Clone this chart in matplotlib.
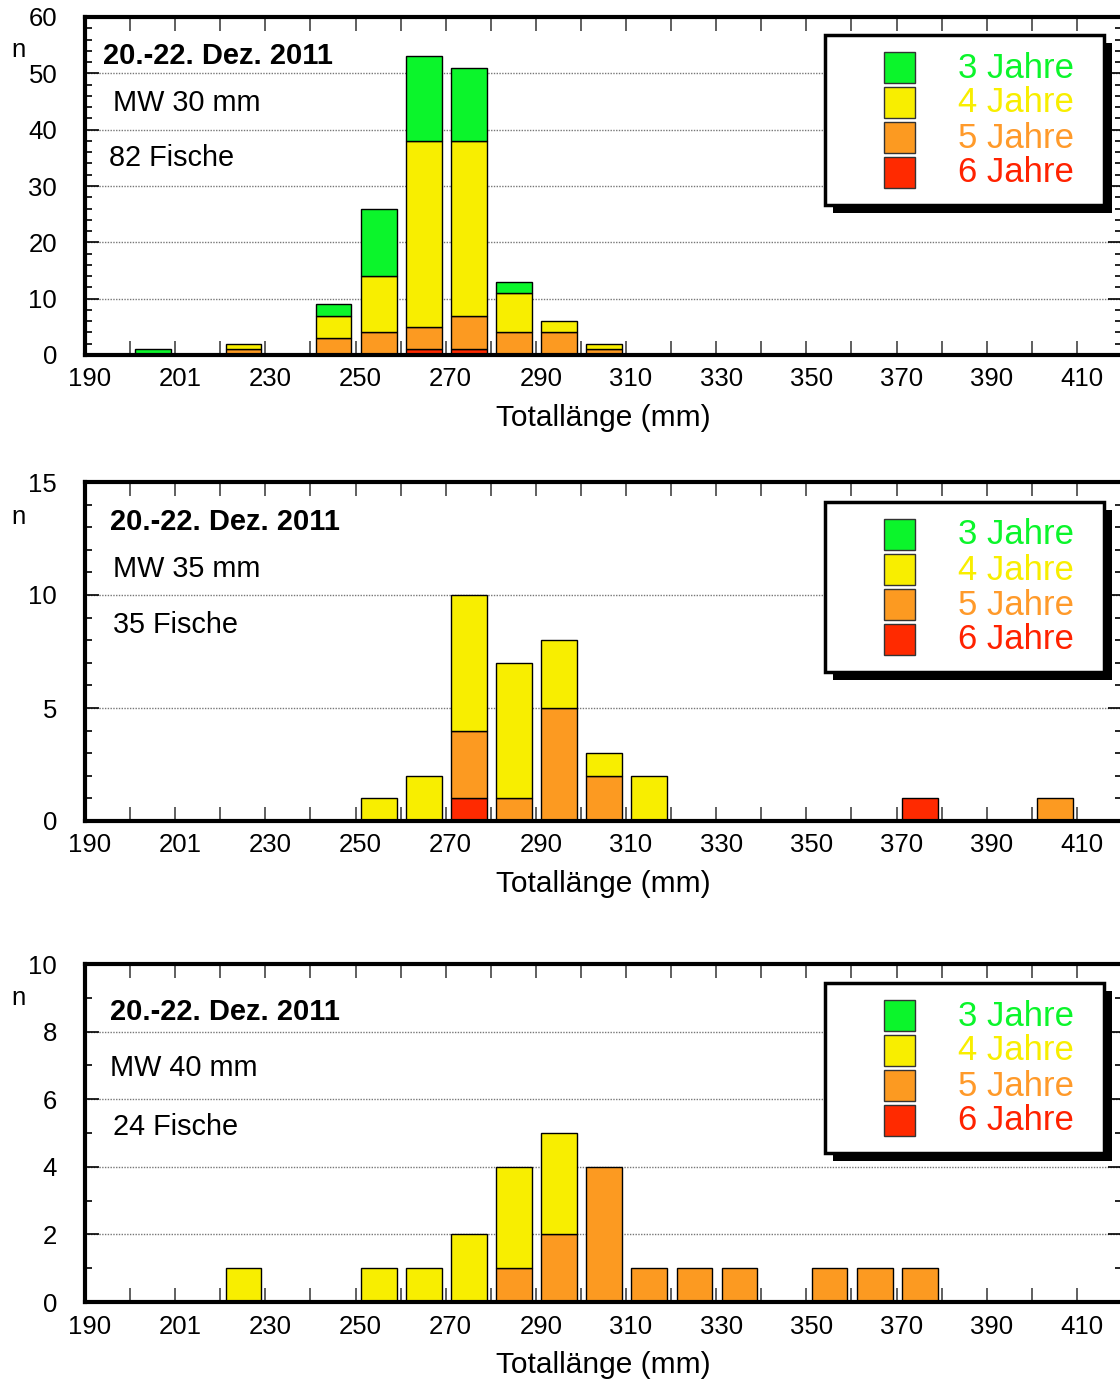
import matplotlib
matplotlib.use("Agg")
import matplotlib.pyplot as plt
import matplotlib.transforms as mtransforms
from matplotlib.patches import Rectangle
from matplotlib.ticker import MultipleLocator, FixedLocator, FixedFormatter

plt.rcParams['font.family'] = ['Liberation Sans', 'DejaVu Sans']

# Längenklassen (Untergrenze in mm)
klassen = list(range(200, 410, 10))

# Panel 1: MW 30 mm
p1_3 = [1, 0, 0, 0, 2, 12, 15, 13, 2, 0, 0, 0, 0, 0, 0, 0, 0, 0, 0, 0, 0]
p1_4 = [0, 0, 1, 0, 4, 10, 33, 31, 7, 2, 1, 0, 0, 0, 0, 0, 0, 0, 0, 0, 0]
p1_5 = [0, 0, 1, 0, 3, 4, 4, 6, 4, 4, 1, 0, 0, 0, 0, 0, 0, 0, 0, 0, 0]
p1_6 = [0, 0, 0, 0, 0, 0, 1, 1, 0, 0, 0, 0, 0, 0, 0, 0, 0, 0, 0, 0, 0]

# Panel 2: MW 35 mm
p2_3 = [0] * 21
p2_4 = [0, 0, 0, 0, 0, 1, 2, 6, 6, 3, 1, 2, 0, 0, 0, 0, 0, 0, 0, 0, 0]
p2_5 = [0, 0, 0, 0, 0, 0, 0, 3, 1, 5, 2, 0, 0, 0, 0, 0, 0, 0, 0, 0, 1]
p2_6 = [0, 0, 0, 0, 0, 0, 0, 1, 0, 0, 0, 0, 0, 0, 0, 0, 0, 1, 0, 0, 0]

# Panel 3: MW 40 mm
p3_3 = [0] * 21
p3_4 = [0, 0, 1, 0, 0, 1, 1, 2, 3, 3, 0, 0, 0, 0, 0, 0, 0, 0, 0, 0, 0]
p3_5 = [0, 0, 0, 0, 0, 0, 0, 0, 1, 2, 4, 1, 1, 1, 0, 1, 1, 1, 0, 0, 0]
p3_6 = [0] * 21

xtick_pos = list(range(190, 420, 20))
xtick_lab = ['190', '201', '230', '250', '270', '290', '310', '330', '350',
             '370', '390', '410']

alter = ['3 Jahre', '4 Jahre', '5 Jahre', '6 Jahre']
farben = ['#0BF52B', '#F8EE00', '#FC9A21', '#FF2A00']
textfarben = ['#0BF52B', '#F8EE00', '#FF9A2A', '#FF2200']

panels = [
    dict(daten=[p1_3, p1_4, p1_5, p1_6], ymax=60, major=10, minor=2,
         mw='MW 30 mm', fische='82 Fische'),
    dict(daten=[p2_3, p2_4, p2_5, p2_6], ymax=15, major=5, minor=1,
         mw='MW 35 mm', fische='35 Fische'),
    dict(daten=[p3_3, p3_4, p3_5, p3_6], ymax=10, major=2, minor=1,
         mw='MW 40 mm', fische='24 Fische'),
]

W, H = 1120, 1383
fig = plt.figure(figsize=(W / 100, H / 100), dpi=100)


def fx(x):
    return x / W


def fy(y):
    return 1 - y / H


# Pixel-Layout der Panels
oben = [17, 482, 964]
unten = [355, 821, 1302]
titel_pos = [(103, 56), (110, 522), (110, 1012)]
mw_pos = [(113, 103), (113, 569), (110, 1068)]
fische_pos = [(109, 158), (113, 625), (113, 1127)]
n_pos = [(18, 50), (18, 517), (18, 998)]
leg_oben = [35, 502, 983]

versatz = mtransforms.ScaledTranslation(5 / 100, 0, fig.dpi_scale_trans)

for i, p in enumerate(panels):
    ax = fig.add_axes([fx(85), fy(unten[i]), 1037 / W, (unten[i] - oben[i]) / H])
    ax.set_axisbelow(True)

    # gestapelte Balken: 6 Jahre unten, dann 5, 4, 3
    boden = [0] * len(klassen)
    for k in [3, 2, 1, 0]:
        werte = p['daten'][k]
        lefts = [c + 1.2 for c, v in zip(klassen, werte) if v > 0]
        hs = [v for v in werte if v > 0]
        bs = [b for b, v in zip(boden, werte) if v > 0]
        ax.bar(lefts, hs, width=7.9, bottom=bs, align='edge', color=farben[k],
               edgecolor='black', linewidth=1.0, zorder=2)
        boden = [b + v for b, v in zip(boden, werte)]

    ax.set_xlim(190, 420)
    ax.set_ylim(0, p['ymax'])
    ax.xaxis.set_major_locator(FixedLocator(xtick_pos))
    ax.xaxis.set_major_formatter(FixedFormatter(xtick_lab))
    ax.xaxis.set_minor_locator(MultipleLocator(10))
    ax.yaxis.set_major_locator(MultipleLocator(p['major']))
    ax.yaxis.set_minor_locator(MultipleLocator(p['minor']))

    ax.tick_params(axis='x', which='both', direction='in', top=True,
                   length=10, width=1.2, color='#444444', labelsize=18.5, pad=9)
    ax.tick_params(axis='y', which='major', direction='in', right=True,
                   length=10, width=1.2, color='black', labelsize=18.5, pad=20)
    ax.tick_params(axis='y', which='minor', direction='in', right=True,
                   length=5, width=1.2, color='black')

    for lab in ax.get_xticklabels():
        lab.set_transform(lab.get_transform() + versatz)

    ax.yaxis.grid(True, which='major', linestyle=(0, (1, 1)), color='#777777',
                  linewidth=1.0)
    for s in ['left', 'top', 'bottom']:
        ax.spines[s].set_linewidth(3)
    ax.spines['right'].set_visible(False)

    ax.set_xlabel('Totallänge (mm)', fontsize=21.5, labelpad=9)

    fig.text(fx(n_pos[i][0]), fy(n_pos[i][1]), 'n', fontsize=18.5,
             ha='center', va='center')
    fig.text(fx(titel_pos[i][0]), fy(titel_pos[i][1]), '20.-22. Dez. 2011',
             fontsize=21, fontweight='bold', ha='left', va='center')
    fig.text(fx(mw_pos[i][0]), fy(mw_pos[i][1]), p['mw'], fontsize=20.8,
             ha='left', va='center')
    fig.text(fx(fische_pos[i][0]), fy(fische_pos[i][1]), p['fische'],
             fontsize=20.8, ha='left', va='center')

    # Legende mit Schatten
    lt = leg_oben[i]
    fig.add_artist(Rectangle((fx(833), fy(lt + 178)), 279 / W, 170 / H,
                             transform=fig.transFigure, facecolor='black',
                             edgecolor='none', zorder=5))
    fig.add_artist(Rectangle((fx(825), fy(lt + 170)), 279 / W, 170 / H,
                             transform=fig.transFigure, facecolor='white',
                             edgecolor='black', linewidth=2.5, zorder=6))
    for k in range(4):
        y0 = lt + 17 + 35 * k
        fig.add_artist(Rectangle((fx(884), fy(y0 + 31)), 31 / W, 31 / H,
                                 transform=fig.transFigure, facecolor=farben[k],
                                 edgecolor='#333333', linewidth=1.0, zorder=7))
        fig.text(fx(958), fy(y0 + 16), alter[k], fontsize=25,
                 color=textfarben[k], ha='left', va='center', zorder=8)

fig.savefig('out.png', dpi=100)
